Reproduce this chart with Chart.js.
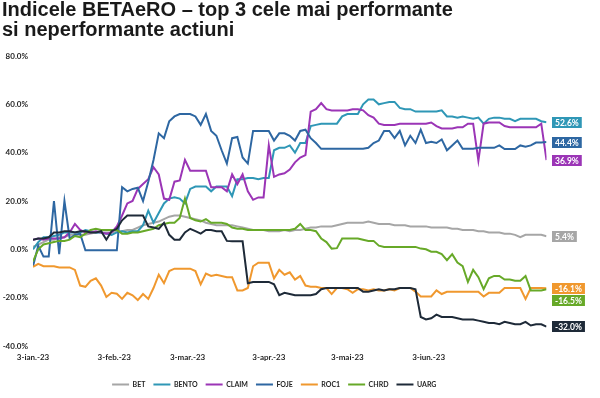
<!DOCTYPE html>
<html lang="ro">
<head>
<meta charset="utf-8">
<title>Indicele BETAeRO</title>
<script src="https://cdn.jsdelivr.net/npm/chart.js@4.4.1/dist/chart.umd.min.js"></script>
<style>
	html, body { margin: 0; padding: 0; background: #fff; }
	#chart { display: block; }
</style>
</head>
<body>
<canvas id="chart" width="600" height="398"></canvas>
<script>
/* global Chart */

// ----------------------------------------------------------------
// Data — days since 3 Jan 2023, cumulative change in %
// ----------------------------------------------------------------
var DAYS = [
	0, 2, 4, 6, 8, 10, 12, 14, 16, 18,
	20, 22, 24, 26, 28, 30, 32, 34, 36, 38,
	40, 42, 44, 46, 48, 50, 52, 54, 56, 58,
	60, 62, 64, 66, 68, 70, 72, 74, 76, 78,
	80, 82, 84, 86, 88, 90, 92, 94, 96, 98,
	100, 102, 104, 106, 108, 110, 112, 114, 116, 118,
	120, 122, 124, 126, 128, 130, 132, 134, 136, 138,
	140, 142, 144, 146, 148, 150, 152, 154, 156, 158,
	160, 162, 164, 166, 168, 170, 172, 174, 176, 178,
	180, 182, 184, 186, 188, 190, 192, 194, 196
];

var MONTH_TICKS  = [ 0, 31, 59, 90, 120, 151 ];
var MONTH_LABELS = [ '3-ian.-23', '3-feb.-23', '3-mar.-23', '3-apr.-23', '3-mai-23', '3-iun.-23' ];

var SERIES_NAMES = [ 'BET', 'BENTO', 'CLAIM', 'FOJE', 'ROC1', 'CHRD', 'UARG' ];

var BET = [
	1, 2, 3, 4, 4, 5, 5, 6, 6, 6,
	6, 6.5, 7, 7, 7, 7, 7.5, 7.5, 8, 8,
	9, 10, 10.5, 11, 11.5, 12.5, 13.5, 14, 14, 13.5,
	13, 12.5, 12, 11, 10.5, 10, 10, 10, 10, 9.5,
	9, 8.5, 8, 8, 8, 7.5, 7.5, 7.5, 8, 7.5,
	8, 8, 8.5, 9, 9, 9.5, 9.5, 9.5, 10, 10.5,
	11, 11, 11, 11, 11.5, 11, 10.5, 10.5, 10.5, 10,
	10, 10, 9.5, 9.5, 9.5, 9.5, 9, 9, 9, 9,
	8.5, 8.5, 8, 8, 8, 7.5, 7.5, 7, 7, 7,
	6.5, 6.5, 6, 5, 6, 6, 6, 6, 5.4
];

var BENTO = [
	0, 3, 5, 5, 5.5, 6, 7, 7, 7, 7,
	8, 7.5, 7, 7, 6.5, 6, 7, 7.5, 7, 7.5,
	7.5, 10, 16, 11, 15, 19, 21, 21.5, 21, 19,
	25, 26, 26, 26, 24, 26, 26, 26, 22, 29,
	29, 29.5, 29.5, 29, 29.5, 29.5, 41, 42, 42, 43,
	40, 44, 44, 51, 51.5, 52, 52, 52, 52, 55,
	56, 56, 56, 60, 62, 62, 60, 60.5, 61, 61,
	58.5, 58, 58, 57, 57, 57, 57, 57, 57.5, 55,
	55, 54.5, 55, 54.5, 54, 54.5, 52, 54, 54.5, 54.5,
	54, 54, 53, 54, 54, 54, 54, 53, 52.6
];

var CLAIM = [
	4, 4.5, 4, 4.5, 4.5, 4.5, 5, 7, 10.5, 8,
	7, 7, 7.5, 7, 6.5, 7, 9.5, 14, 19, 20,
	25, 27, 29, 34, 31, 21, 20.5, 28, 28.5, 37,
	32.5, 32.5, 32.5, 32.5, 25.7, 25.7, 25.7, 24, 31, 27,
	31, 24, 20.5, 21.5, 21.5, 43, 30, 31, 31.5, 33,
	36, 38, 39, 57, 58, 60.5, 58, 57.5, 57.5, 57.5,
	57.5, 58, 58, 57.5, 55.5, 54.5, 52, 51.5, 51.5, 51.5,
	52, 52, 52, 52, 52, 52, 52.5, 51, 50, 50,
	50, 50.5, 50.5, 52, 52, 36.7, 52, 52.5, 52.5, 52.5,
	51, 50.5, 50.5, 50.5, 50.5, 50.5, 50.5, 52, 36.9
];

var FOJE = [
	-7, 1.5, -3, -3, 20, -2, 20, 4.5, 6, 6.5,
	-0.4, -0.4, -0.4, -0.4, -0.4, -0.4, -0.4, 25.7, 24, 25,
	25.5, 20, 28, 37, 48, 46, 53, 55, 56, 56,
	56, 55, 51.5, 56, 49, 47, 41, 35.5, 46, 46.5,
	38, 35.5, 49, 49, 49, 49, 45, 48, 48, 47,
	45, 49, 49.5, 46, 44, 41.6, 41.6, 41.6, 41.6, 41.6,
	41.6, 41.6, 41.6, 41.6, 42, 44, 45, 49, 49, 46,
	49, 43, 47, 44, 49.5, 44, 44.5, 44, 45.5, 41,
	43, 45, 41.6, 41.6, 41.6, 42, 42, 42, 42, 43,
	41.5, 41.5, 41.5, 43, 42.5, 43, 44.2, 44.2, 44.4
];

var ROC1 = [
	-7.3, -6, -7, -7, -7, -7.5, -7.5, -7.5, -8.5, -15,
	-15.5, -13, -12, -15, -19.7, -18, -18.4, -20.5, -18, -19,
	-21, -18.5, -20.5, -16, -10.5, -14, -9, -8, -8, -8,
	-8, -9, -14.5, -10, -11, -10.5, -11, -11.5, -11.5, -17,
	-17, -16, -7, -5.5, -5.5, -5.5, -12, -8.5, -10.5, -9.5,
	-12.5, -11, -15, -15.5, -15.5, -16, -16, -18.5, -16, -16,
	-16.5, -18, -16.5, -16.5, -17, -16.5, -17, -17, -16.5, -17,
	-16, -16, -16, -17.5, -19.5, -19.5, -19.5, -17, -18.5, -17.6,
	-17.6, -17.6, -17.6, -17.6, -17.6, -17.6, -19.5, -18, -18, -18,
	-16, -16, -16, -16, -20.5, -16, -16, -16, -16.1
];

var CHRD = [
	-5, 0, 2, 2.5, 3, 3.5, 3.5, 4, 5.5, 5,
	6.5, 8, 8.5, 8, 8, 8, 8, 6.5, 6.5, 7,
	7, 7.5, 8, 8.5, 10, 10.5, 11, 11, 13, 21,
	13, 12, 11.5, 12.5, 11, 11, 11, 10.5, 9, 8.5,
	8.5, 8, 8, 8, 8, 8, 8, 8, 8, 8,
	8.5, 10.5, 8, 8, 7.5, 4.5, 3, 0.3, 0.5, 4.5,
	4.5, 4.5, 4.5, 4, 3.5, 3.5, 1.5, 1, 1, 1,
	1, 1, 1, 1, 0.3, 0, -1, -1, -2, -4.5,
	-2, -5.5, -7, -13.5, -8.5, -11.5, -16.5, -12, -11, -11,
	-12.5, -12.5, -13, -13, -11, -17, -17, -17, -16.5
];

var UARG = [
	4, 4.5, 4.5, 5, 7, 7, 7.5, 7.5, 7, 7.5,
	7.5, 7, 7, 7.5, 4, 7.5, 8.5, 12, 14, 14,
	14, 14, 9.5, 9, 8.5, 11, 6, 4, 4, 7,
	8.5, 7.5, 6.5, 8, 8, 7.5, 7.5, 3.5, 3.3, 3.3,
	3.3, -14, -13.5, -13.5, -13.5, -13.5, -14.5, -19, -18, -18.5,
	-19, -19, -19, -19, -18.5, -16.5, -16, -16, -16, -16,
	-16, -16, -16, -17.5, -17.5, -17, -16.5, -17, -16.5, -16.5,
	-16, -16, -16, -16.5, -28, -29, -28.5, -27, -28, -28,
	-28, -28.5, -29, -29, -29, -29.5, -30, -30.5, -30.5, -31,
	-30, -30.5, -31, -31, -30, -31.5, -31, -31, -32
];

( function () {
	'use strict';

	var COLORS = [ '#a6a6a6', '#2f97b6', '#9b35b6', '#2e67a2', '#f0982e', '#67a928', '#1e2a38' ];
	var VALUES = [ BET, BENTO, CLAIM, FOJE, ROC1, CHRD, UARG ];

	var TICK_FONT  = { family: 'Lato, "Open Sans", sans-serif', size: 8, weight: 'bold' };
	var TEXT_COLOR = '#262626';

	// ----------------------------------------------------------------
	// Value boxes at the right end of each line
	// ----------------------------------------------------------------
	var endLabels = {
		id: 'endLabels',
		afterDatasetsDraw: function ( chart ) {
			var ctx  = chart.ctx;
			var yS   = chart.scales.y;
			var area = chart.chartArea;
			var boxH = 11;

			var items = chart.data.datasets.map( function ( ds ) {
				var v = ds.data[ ds.data.length - 1 ];
				return { text: v.toFixed( 1 ) + '%', color: ds.borderColor, y: yS.getPixelForValue( v ) };
			} );
			items.sort( function ( a, b ) { return a.y - b.y; } );
			for ( var i = 1; i < items.length; i++ ) {
				if ( items[ i ].y - items[ i - 1 ].y < boxH + 1 ) {
					items[ i ].y = items[ i - 1 ].y + boxH + 1;
				}
			}

			ctx.save();
			ctx.font = 'bold 8.5px Lato, "Open Sans", sans-serif';
			ctx.textBaseline = 'middle';
			items.forEach( function ( it ) {
				var w   = ctx.measureText( it.text ).width + 6;
				var x   = area.right + 5.5;
				var top = Math.round( it.y - boxH / 2 );
				ctx.fillStyle = it.color;
				ctx.fillRect( x, top, w, boxH );
				ctx.fillStyle = '#fff';
				ctx.fillText( it.text, x + 3, top + boxH / 2 + 0.5 );
			} );
			ctx.restore();
		}
	};

	var datasets = SERIES_NAMES.map( function ( name, i ) {
		return {
			label           : name,
			data            : VALUES[ i ],
			borderColor     : COLORS[ i ],
			backgroundColor : COLORS[ i ],
			borderWidth     : 2,
			pointRadius     : 0,
			pointHoverRadius: 0,
			tension         : 0,
			fill            : false,
			order           : SERIES_NAMES.length - i
		};
	} );

	new Chart( document.getElementById( 'chart' ), {
		type: 'line',
		data: { labels: DAYS, datasets: datasets },
		plugins: [ endLabels ],
		options: {
			responsive       : false,
			animation        : false,
			devicePixelRatio : 1,
			events           : [],
			layout: { padding: { left: 2, right: 53.5, top: 0, bottom: 0 } },
			plugins: {
				tooltip: { enabled: false },
				title: {
					display : true,
					align   : 'start',
					text    : [ 'Indicele BETAeRO \u2013 top 3 cele mai performante', 'si neperformante actiuni' ],
					color   : '#1a1a1a',
					font    : { family: '"Liberation Sans", Arial, sans-serif', size: 20, weight: 'bold', lineHeight: 1.0 },
					padding : { top: 0, bottom: 16 }
				},
				legend: {
					position : 'bottom',
					align    : 'center',
					labels   : {
						boxWidth  : 17,
						boxHeight : 2,
						padding   : 8,
						color     : TEXT_COLOR,
						font      : { family: 'Lato, "Open Sans", sans-serif', size: 7, weight: 'bold' },
						generateLabels: function ( chart ) {
							var items = Chart.defaults.plugins.legend.labels.generateLabels( chart );
							items.forEach( function ( it ) {
								it.fillStyle = it.strokeStyle;
								it.lineWidth = 0;
							} );
							return items.sort( function ( a, b ) { return a.datasetIndex - b.datasetIndex; } );
						}
					}
				}
			},
			scales: {
				x: {
					type   : 'linear',
					min    : 0,
					max    : 196,
					grid   : { display: false, drawTicks: false },
					border : { display: false },
					afterBuildTicks: function ( s ) {
						s.ticks = MONTH_TICKS.map( function ( v ) { return { value: v }; } );
					},
					afterFit: function ( s ) { s.height = 27; },
					ticks: {
						autoSkip    : false,
						maxRotation : 0,
						padding     : 7,
						color       : TEXT_COLOR,
						font        : TICK_FONT,
						callback    : function ( v ) {
							var k = MONTH_TICKS.indexOf( v );
							return k < 0 ? '' : MONTH_LABELS[ k ];
						}
					}
				},
				y: {
					min    : -40,
					max    : 80,
					grid   : { display: false, drawTicks: false },
					border : { display: false },
					afterFit: function ( s ) { s.width = 31; },
					ticks: {
						stepSize : 20,
						padding  : 5,
						color    : TEXT_COLOR,
						font     : TICK_FONT,
						callback : function ( v ) { return v.toFixed( 1 ) + '%'; }
					}
				}
			}
		}
	} );
}() );
</script>
</body>
</html>
